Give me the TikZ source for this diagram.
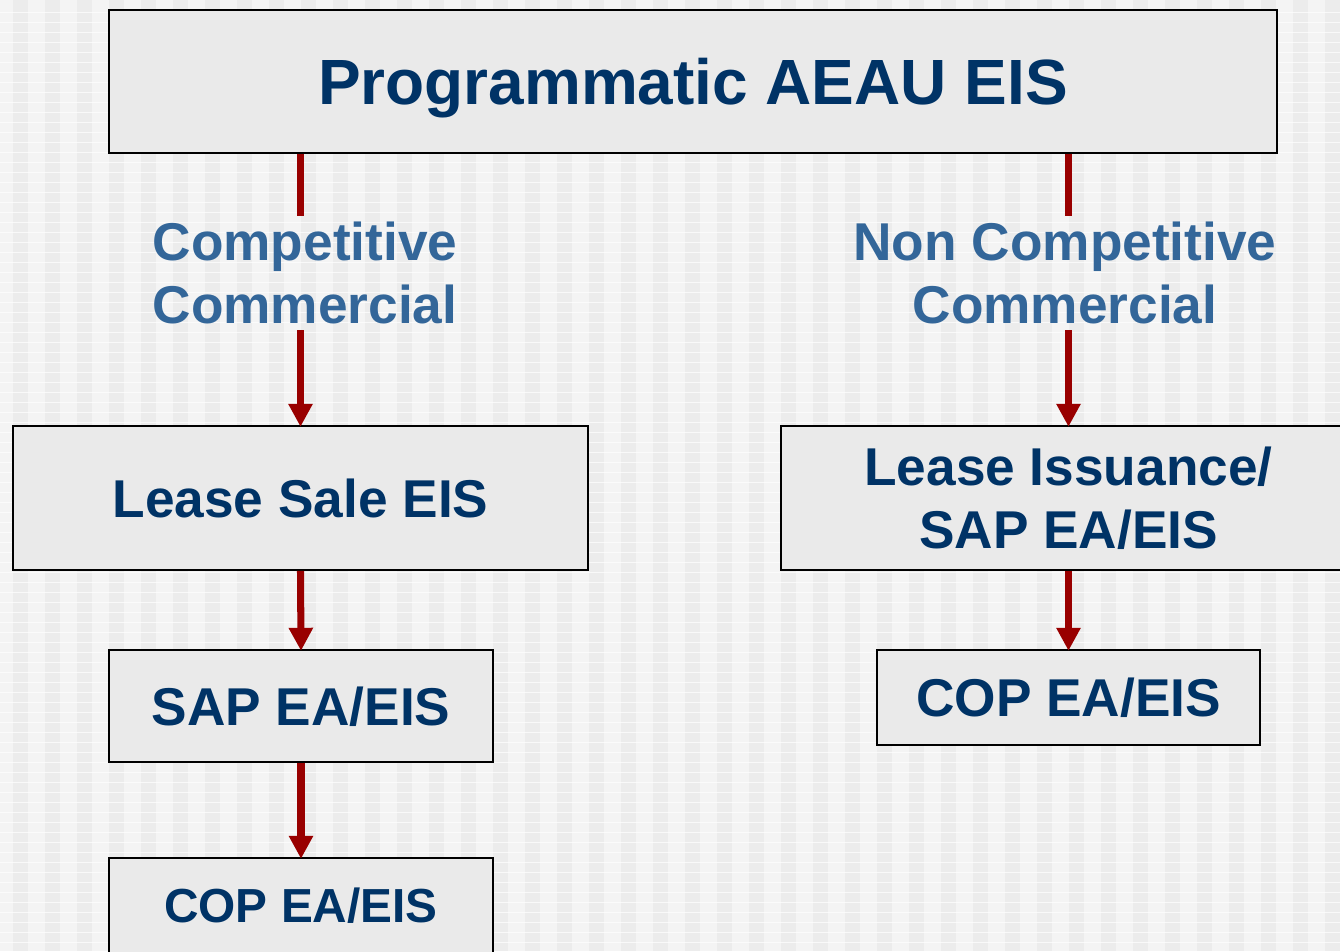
\documentclass[tikz,border=0pt]{standalone}
\usepackage{fontspec}
\setmainfont{Liberation Sans}
\usepackage{xcolor}
\usetikzlibrary{positioning, arrows.meta}
\definecolor{boxgray}{HTML}{EAEAEA}
\definecolor{bgbase}{HTML}{F4F4F4}
\definecolor{bgstripe}{HTML}{ECECEC}
\definecolor{navytext}{HTML}{003366}
\definecolor{labelblue}{HTML}{336699}
\definecolor{arrowred}{HTML}{990000}
\tikzset{
  box/.style={draw=black, line width=1.1pt, fill=boxgray, font=\bfseries\fontsize{30.3}{35.8}\selectfont,
    text=navytext, align=center, inner sep=0pt, text depth=0pt},
  branchlabel/.style={font=\bfseries\fontsize{30.3}{35.8}\selectfont, text=labelblue, align=center,
    inner sep=0pt, minimum height=2.28cm},
  flowline/.style={draw=arrowred, line width=4pt},
  flowarrow/.style={flowline, -{Triangle[width=0.46cm,length=0.46cm]}, shorten >=-1pt}
}
\begin{document}
\begin{tikzpicture}[x=0.02cm,y=-0.02cm]
\useasboundingbox (0,0) rectangle (1340,951);
\begin{scope}
\clip (0,0) rectangle (1340,951);
% striped backdrop
\fill[bgbase] (0,0) rectangle (1340,951);
\foreach \i in {0,...,41}
  \fill[bgstripe] (13+32*\i,0) rectangle +(15,951);
\foreach \j in {0,...,95}
  \draw[white, opacity=0.7, line width=0.4pt] (0,12+10*\j) -- (1340,12+10*\j);

% boxes
\node[box, minimum width=23.36cm, minimum height=2.86cm, font=\bfseries\fontsize{36.4}{40}\selectfont]
  (prog) at (693,81.5) {Programmatic AEAU EIS};
\node[box, minimum width=11.5cm, minimum height=2.88cm] (lsale) at (300.5,498) {Lease Sale EIS};
\node[box, minimum width=11.5cm, minimum height=2.88cm] (liss) at (1068.5,498)
  {Lease Issuance/\\SAP EA/EIS};
\node[box, minimum width=7.68cm, minimum height=2.24cm] (sap) at (301,706) {SAP EA/EIS};
\node[box, minimum width=7.68cm, minimum height=1.9cm, font=\bfseries\fontsize{27.2}{32}\selectfont]
  (copl) at (301,905.5) {COP EA/EIS};
\node[box, minimum width=7.66cm, minimum height=1.9cm] (copr) at (1068.5,697.5) {COP EA/EIS};

% branch labels
\node[branchlabel] (comp) at (305,273) {Competitive\\Commercial};
\node[branchlabel] (ncomp) at (1065,273) {Non Competitive\\Commercial};

% connectors
\draw[flowline] (prog.south -| lsale) -- (comp.north -| lsale);
\draw[flowarrow] (comp.south -| lsale) -- (lsale.north);
\draw[flowline] (prog.south -| liss) -- (ncomp.north -| liss);
\draw[flowarrow] (ncomp.south -| liss) -- (liss.north);
\draw[flowarrow] (lsale.south) -- (sap.north);
\draw[flowarrow] (sap.south) -- (copl.north);
\draw[flowarrow] (liss.south) -- (copr.north);
\end{scope}
\end{tikzpicture}
\end{document}
